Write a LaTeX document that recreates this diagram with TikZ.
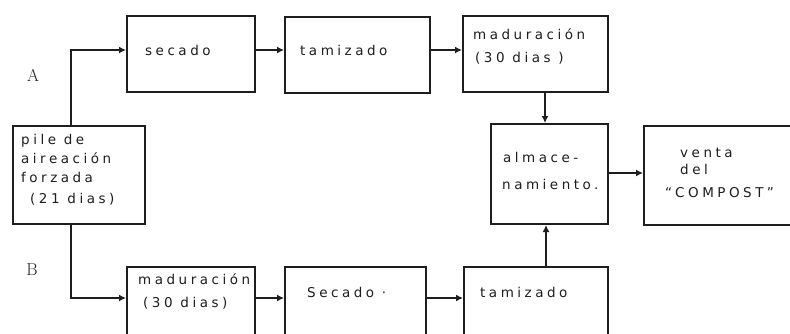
\documentclass[tikz,border=0pt]{standalone}
\usepackage{fontspec}
\usetikzlibrary{arrows.meta}
\newfontfamily\handfont[LetterSpace=26]{DejaVu Sans}
\definecolor{ink}{HTML}{1E1E1E}
\begin{document}
\begin{tikzpicture}[x=1pt,y=-1pt,
  box/.style={draw=ink,line width=2pt,anchor=north west,inner sep=0pt},
  txt/.style={anchor=base west,inner sep=0pt,text=ink,font=\handfont\fontsize{13.5}{15}\selectfont},
  flow/.style={draw=ink,line width=1.7pt,-{Latex[length=7pt,width=7pt]}},
  branch/.style={font=\LARGE,text=ink,inner sep=0pt}]
\clip (0,0) rectangle (790,333);
\fill[white] (0,0) rectangle (790,333);

% boxes of the upper route (A)
\node[box,minimum width=128pt,minimum height=76pt] (secA) at (126,15) {};
\node[box,minimum width=145pt,minimum height=76pt] (tamA) at (284,16) {};
\node[box,minimum width=145pt,minimum height=76pt] (madA) at (462,15) {};
% common boxes
\node[box,minimum width=132pt,minimum height=98pt] (pile) at (12,125) {};
\node[box,minimum width=117pt,minimum height=100pt] (alm) at (490,123) {};
\node[box,minimum width=170pt,minimum height=99pt] (venta) at (643,125) {};
% boxes of the lower route (B)
\node[box,minimum width=128pt,minimum height=80pt] (madB) at (126,266) {};
\node[box,minimum width=141pt,minimum height=80pt] (secB) at (284,266) {};
\node[box,minimum width=144pt,minimum height=80pt] (tamB) at (463,266) {};

% texts
\node[txt] (tsecA) at (145,55) {secado};
\node[txt] (ttamA) at (300,55) {tamizado};
\node[txt] (tmadA1) at (473,39) {maduración};
\node[txt] (tmadA2) at (475,62) {(30 dias )};
\node[txt] (tpile1) at (21,144) {pile de};
\node[txt] (tpile2) at (21,163) {aireación};
\node[txt] (tpile3) at (21,182) {forzada};
\node[txt] (tpile4) at (30,203) {(21 dias)};
\node[txt] (talm1) at (503,162) {almace-};
\node[txt] (talm2) at (502,189) {namiento.};
\node[txt] (tven1) at (680,157) {venta};
\node[txt] (tven2) at (680,174) {del};
\node[txt] (tven3) at (665,197) {“COMPOST”};
\node[txt] (tmadB1) at (138,284) {maduración};
\node[txt] (tmadB2) at (143,307) {(30 dias)};
\node[txt] (tsecB) at (307,297) {Secado ·};
\node[txt] (ttamB) at (480,297) {tamizado};

\node[branch] (labA) at (33,75) {A};
\node[branch] (labB) at (32,270) {B};

% connectors
\draw[flow] ([xshift=-8pt]pile.north) |- (secA.west |- 0,50);
\draw[flow] (secA.east |- 0,50) -- (tamA.west |- 0,50);
\draw[flow] (tamA.east |- 0,50) -- (madA.west |- 0,50);
\draw[flow] (madA.south -| 545,0) -- (alm.north -| 545,0);
\draw[flow] (tamB.north -| 546,0) -- (alm.south -| 546,0);
\draw[flow] (alm.east |- 0,173) -- (venta.west |- 0,173);
\draw[flow] ([xshift=-8pt]pile.south) |- (madB.west |- 0,298);
\draw[flow] (madB.east |- 0,298) -- (secB.west |- 0,298);
\draw[flow] (secB.east |- 0,298) -- (tamB.west |- 0,298);
\end{tikzpicture}
\end{document}
